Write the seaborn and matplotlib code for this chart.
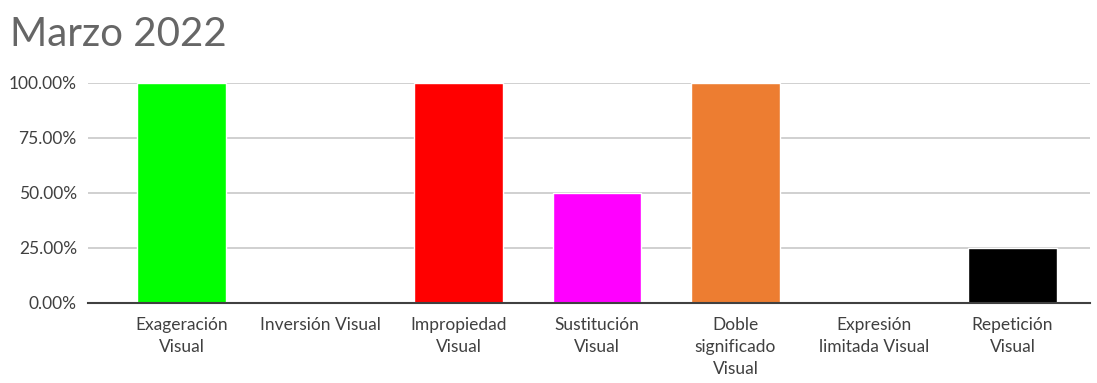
import seaborn as sns
import matplotlib.pyplot as plt
from matplotlib.ticker import FuncFormatter

categories = [
    "Exageración\nVisual",
    "Inversión Visual",
    "Impropiedad\nVisual",
    "Sustitución\nVisual",
    "Doble\nsignificado\nVisual",
    "Expresión\nlimitada Visual",
    "Repetición\nVisual",
]
values = [1.0, 0.0, 1.0, 0.5, 1.0, 0.0, 0.25]
colors = ["#00ff00", "#4472c4", "#ff0000", "#ff00ff", "#ed7d31", "#a5a5a5", "#000000"]
yticks = [0, 0.25, 0.5, 0.75, 1.0]

sns.set_style("white")
plt.rcParams["font.family"] = ["Lato", "DejaVu Sans"]

fig = plt.figure(figsize=(10.97, 3.83), dpi=100)
ax = fig.add_axes([0.0802, 0.2089, 0.9134, 0.5744])

sns.barplot(
    x=categories,
    y=values,
    hue=categories,
    palette=colors,
    saturation=1,
    legend=False,
    width=0.64,
    ax=ax,
)

ax.set_xlim(-0.675, 6.56)
ax.set_ylim(0, 1.0)
ax.set_yticks(yticks)
ax.yaxis.set_major_formatter(FuncFormatter(lambda v, _: f"{v * 100:.2f}%"))
ax.yaxis.grid(True, color="#c8c8c8", linewidth=1.2)
ax.set_axisbelow(True)
for s in ["top", "right", "left"]:
    ax.spines[s].set_visible(False)
ax.spines["bottom"].set_color("#404040")
ax.spines["bottom"].set_linewidth(1.5)
ax.tick_params(axis="both", length=0, colors="#404040", labelsize=12.5)
ax.tick_params(axis="x", pad=10)
ax.tick_params(axis="y", pad=8)
for lbl in ax.get_xticklabels():
    lbl.set_linespacing(1.45)

fig.text(0.009, 0.91, "Marzo 2022", fontsize=29, color="#666666", va="center", ha="left")

fig.savefig("out.png", dpi=100)
